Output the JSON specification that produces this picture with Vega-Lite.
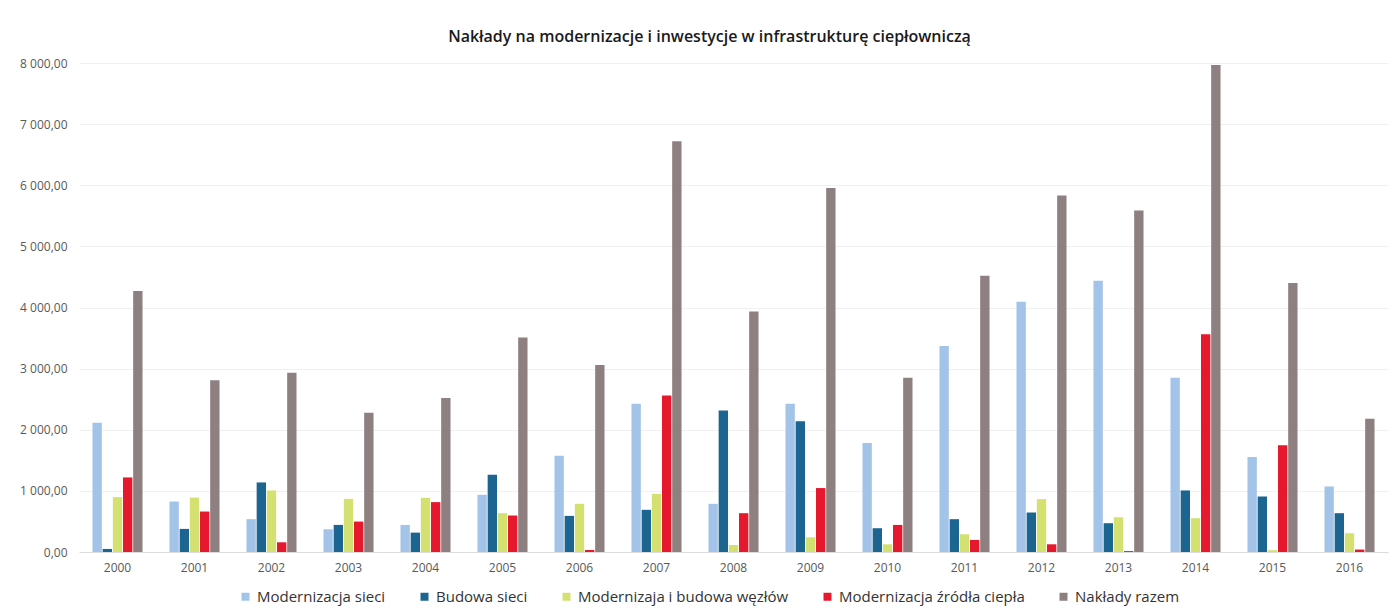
{
  "$schema": "https://vega.github.io/schema/vega-lite/v6.json",
  "autosize": {"type": "none"},
  "width": 1309,
  "height": 489,
  "padding": {"left": 79, "right": 6, "top": 63, "bottom": 64},
  "background": "white",
  "title": {
    "text": "Nakłady na modernizacje i inwestycje w infrastrukturę ciepłowniczą",
    "font": "Open Sans",
    "fontSize": 16,
    "fontWeight": 600,
    "color": "#1a1a1a",
    "anchor": "middle",
    "dx": -24,
    "offset": 12
  },
  "config": {
    "locale": {
      "number": {"decimal": ",", "thousands": " ", "grouping": [3], "currency": ["", " zł"]}
    },
    "view": {"stroke": null},
    "font": "Open Sans"
  },
  "data": {
    "values": [
      {"rok": "2000", "kategoria": "Modernizacja sieci", "wartosc": 2113},
      {"rok": "2000", "kategoria": "Budowa sieci", "wartosc": 50},
      {"rok": "2000", "kategoria": "Modernizaja i budowa węzłów", "wartosc": 898},
      {"rok": "2000", "kategoria": "Modernizacja źródła ciepła", "wartosc": 1220},
      {"rok": "2000", "kategoria": "Nakłady razem", "wartosc": 4270},
      {"rok": "2001", "kategoria": "Modernizacja sieci", "wartosc": 826},
      {"rok": "2001", "kategoria": "Budowa sieci", "wartosc": 378},
      {"rok": "2001", "kategoria": "Modernizaja i budowa węzłów", "wartosc": 890},
      {"rok": "2001", "kategoria": "Modernizacja źródła ciepła", "wartosc": 662},
      {"rok": "2001", "kategoria": "Nakłady razem", "wartosc": 2808},
      {"rok": "2002", "kategoria": "Modernizacja sieci", "wartosc": 537},
      {"rok": "2002", "kategoria": "Budowa sieci", "wartosc": 1138},
      {"rok": "2002", "kategoria": "Modernizaja i budowa węzłów", "wartosc": 1007},
      {"rok": "2002", "kategoria": "Modernizacja źródła ciepła", "wartosc": 159},
      {"rok": "2002", "kategoria": "Nakłady razem", "wartosc": 2934},
      {"rok": "2003", "kategoria": "Modernizacja sieci", "wartosc": 372},
      {"rok": "2003", "kategoria": "Budowa sieci", "wartosc": 443},
      {"rok": "2003", "kategoria": "Modernizaja i budowa węzłów", "wartosc": 870},
      {"rok": "2003", "kategoria": "Modernizacja źródła ciepła", "wartosc": 498},
      {"rok": "2003", "kategoria": "Nakłady razem", "wartosc": 2277},
      {"rok": "2004", "kategoria": "Modernizacja sieci", "wartosc": 443},
      {"rok": "2004", "kategoria": "Budowa sieci", "wartosc": 317},
      {"rok": "2004", "kategoria": "Modernizaja i budowa węzłów", "wartosc": 887},
      {"rok": "2004", "kategoria": "Modernizacja źródła ciepła", "wartosc": 816},
      {"rok": "2004", "kategoria": "Nakłady razem", "wartosc": 2518},
      {"rok": "2005", "kategoria": "Modernizacja sieci", "wartosc": 936},
      {"rok": "2005", "kategoria": "Budowa sieci", "wartosc": 1264},
      {"rok": "2005", "kategoria": "Modernizaja i budowa węzłów", "wartosc": 635},
      {"rok": "2005", "kategoria": "Modernizacja źródła ciepła", "wartosc": 597},
      {"rok": "2005", "kategoria": "Nakłady razem", "wartosc": 3509},
      {"rok": "2006", "kategoria": "Modernizacja sieci", "wartosc": 1576},
      {"rok": "2006", "kategoria": "Budowa sieci", "wartosc": 591},
      {"rok": "2006", "kategoria": "Modernizaja i budowa węzłów", "wartosc": 788},
      {"rok": "2006", "kategoria": "Modernizacja źródła ciepła", "wartosc": 33},
      {"rok": "2006", "kategoria": "Nakłady razem", "wartosc": 3060},
      {"rok": "2007", "kategoria": "Modernizacja sieci", "wartosc": 2425},
      {"rok": "2007", "kategoria": "Budowa sieci", "wartosc": 690},
      {"rok": "2007", "kategoria": "Modernizaja i budowa węzłów", "wartosc": 952},
      {"rok": "2007", "kategoria": "Modernizacja źródła ciepła", "wartosc": 2561},
      {"rok": "2007", "kategoria": "Nakłady razem", "wartosc": 6720},
      {"rok": "2008", "kategoria": "Modernizacja sieci", "wartosc": 788},
      {"rok": "2008", "kategoria": "Budowa sieci", "wartosc": 2315},
      {"rok": "2008", "kategoria": "Modernizaja i budowa węzłów", "wartosc": 115},
      {"rok": "2008", "kategoria": "Modernizacja źródła ciepła", "wartosc": 635},
      {"rok": "2008", "kategoria": "Nakłady razem", "wartosc": 3936},
      {"rok": "2009", "kategoria": "Modernizacja sieci", "wartosc": 2425},
      {"rok": "2009", "kategoria": "Budowa sieci", "wartosc": 2140},
      {"rok": "2009", "kategoria": "Modernizaja i budowa węzłów", "wartosc": 241},
      {"rok": "2009", "kategoria": "Modernizacja źródła ciepła", "wartosc": 1046},
      {"rok": "2009", "kategoria": "Nakłady razem", "wartosc": 5956},
      {"rok": "2010", "kategoria": "Modernizacja sieci", "wartosc": 1785},
      {"rok": "2010", "kategoria": "Budowa sieci", "wartosc": 389},
      {"rok": "2010", "kategoria": "Modernizaja i budowa węzłów", "wartosc": 126},
      {"rok": "2010", "kategoria": "Modernizacja źródła ciepła", "wartosc": 443},
      {"rok": "2010", "kategoria": "Nakłady razem", "wartosc": 2852},
      {"rok": "2011", "kategoria": "Modernizacja sieci", "wartosc": 3372},
      {"rok": "2011", "kategoria": "Budowa sieci", "wartosc": 537},
      {"rok": "2011", "kategoria": "Modernizaja i budowa węzłów", "wartosc": 290},
      {"rok": "2011", "kategoria": "Modernizacja źródła ciepła", "wartosc": 197},
      {"rok": "2011", "kategoria": "Nakłady razem", "wartosc": 4521},
      {"rok": "2012", "kategoria": "Modernizacja sieci", "wartosc": 4094},
      {"rok": "2012", "kategoria": "Budowa sieci", "wartosc": 646},
      {"rok": "2012", "kategoria": "Modernizaja i budowa węzłów", "wartosc": 865},
      {"rok": "2012", "kategoria": "Modernizacja źródła ciepła", "wartosc": 126},
      {"rok": "2012", "kategoria": "Nakłady razem", "wartosc": 5834},
      {"rok": "2013", "kategoria": "Modernizacja sieci", "wartosc": 4439},
      {"rok": "2013", "kategoria": "Budowa sieci", "wartosc": 471},
      {"rok": "2013", "kategoria": "Modernizaja i budowa węzłów", "wartosc": 569},
      {"rok": "2013", "kategoria": "Modernizacja źródła ciepła", "wartosc": 15},
      {"rok": "2013", "kategoria": "Nakłady razem", "wartosc": 5588},
      {"rok": "2014", "kategoria": "Modernizacja sieci", "wartosc": 2852},
      {"rok": "2014", "kategoria": "Budowa sieci", "wartosc": 1007},
      {"rok": "2014", "kategoria": "Modernizaja i budowa węzłów", "wartosc": 553},
      {"rok": "2014", "kategoria": "Modernizacja źródła ciepła", "wartosc": 3563},
      {"rok": "2014", "kategoria": "Nakłady razem", "wartosc": 7969},
      {"rok": "2015", "kategoria": "Modernizacja sieci", "wartosc": 1555},
      {"rok": "2015", "kategoria": "Budowa sieci", "wartosc": 908},
      {"rok": "2015", "kategoria": "Modernizaja i budowa węzłów", "wartosc": 30},
      {"rok": "2015", "kategoria": "Modernizacja źródła ciepła", "wartosc": 1746},
      {"rok": "2015", "kategoria": "Nakłady razem", "wartosc": 4401},
      {"rok": "2016", "kategoria": "Modernizacja sieci", "wartosc": 1072},
      {"rok": "2016", "kategoria": "Budowa sieci", "wartosc": 635},
      {"rok": "2016", "kategoria": "Modernizaja i budowa węzłów", "wartosc": 307},
      {"rok": "2016", "kategoria": "Modernizacja źródła ciepła", "wartosc": 40},
      {"rok": "2016", "kategoria": "Nakłady razem", "wartosc": 2179}
    ]
  },
  "mark": {"type": "bar"},
  "encoding": {
    "x": {
      "field": "rok",
      "type": "nominal",
      "scale": {"paddingInner": 0.35, "paddingOuter": 0.175},
      "axis": {
        "title": null,
        "labelAngle": 0,
        "labelFont": "Open Sans",
        "labelFontSize": 12,
        "labelColor": "#595959",
        "labelPadding": 10,
        "ticks": false,
        "domainColor": "#dcdcdc",
        "grid": false
      }
    },
    "xOffset": {
      "field": "kategoria",
      "type": "nominal",
      "sort": ["Modernizacja sieci", "Budowa sieci", "Modernizaja i budowa węzłów", "Modernizacja źródła ciepła", "Nakłady razem"],
      "scale": {"paddingInner": 0.08}
    },
    "y": {
      "field": "wartosc",
      "type": "quantitative",
      "scale": {"domain": [0, 8000], "nice": false},
      "axis": {
        "title": null,
        "format": ",.2f",
        "values": [0, 1000, 2000, 3000, 4000, 5000, 6000, 7000, 8000],
        "labelFont": "Open Sans",
        "labelFontSize": 12,
        "labelColor": "#595959",
        "labelPadding": 12,
        "ticks": false,
        "domain": false,
        "gridColor": "#f0f0f0",
        "gridWidth": 1
      }
    },
    "color": {
      "field": "kategoria",
      "type": "nominal",
      "sort": ["Modernizacja sieci", "Budowa sieci", "Modernizaja i budowa węzłów", "Modernizacja źródła ciepła", "Nakłady razem"],
      "scale": {
        "domain": ["Modernizacja sieci", "Budowa sieci", "Modernizaja i budowa węzłów", "Modernizacja źródła ciepła", "Nakłady razem"],
        "range": ["#a3c4e8", "#1b6590", "#d4e070", "#e5182d", "#8e8080"]
      },
      "legend": {
        "title": null,
        "orient": "none",
        "legendX": 159,
        "legendY": 526,
        "direction": "horizontal",
        "symbolType": "square",
        "symbolSize": 64,
        "symbolStrokeWidth": 0,
        "labelFont": "Open Sans",
        "labelFontSize": 15,
        "labelColor": "#333333",
        "labelLimit": 400,
        "labelOffset": 4,
        "columnPadding": 31
      }
    }
  }
}
